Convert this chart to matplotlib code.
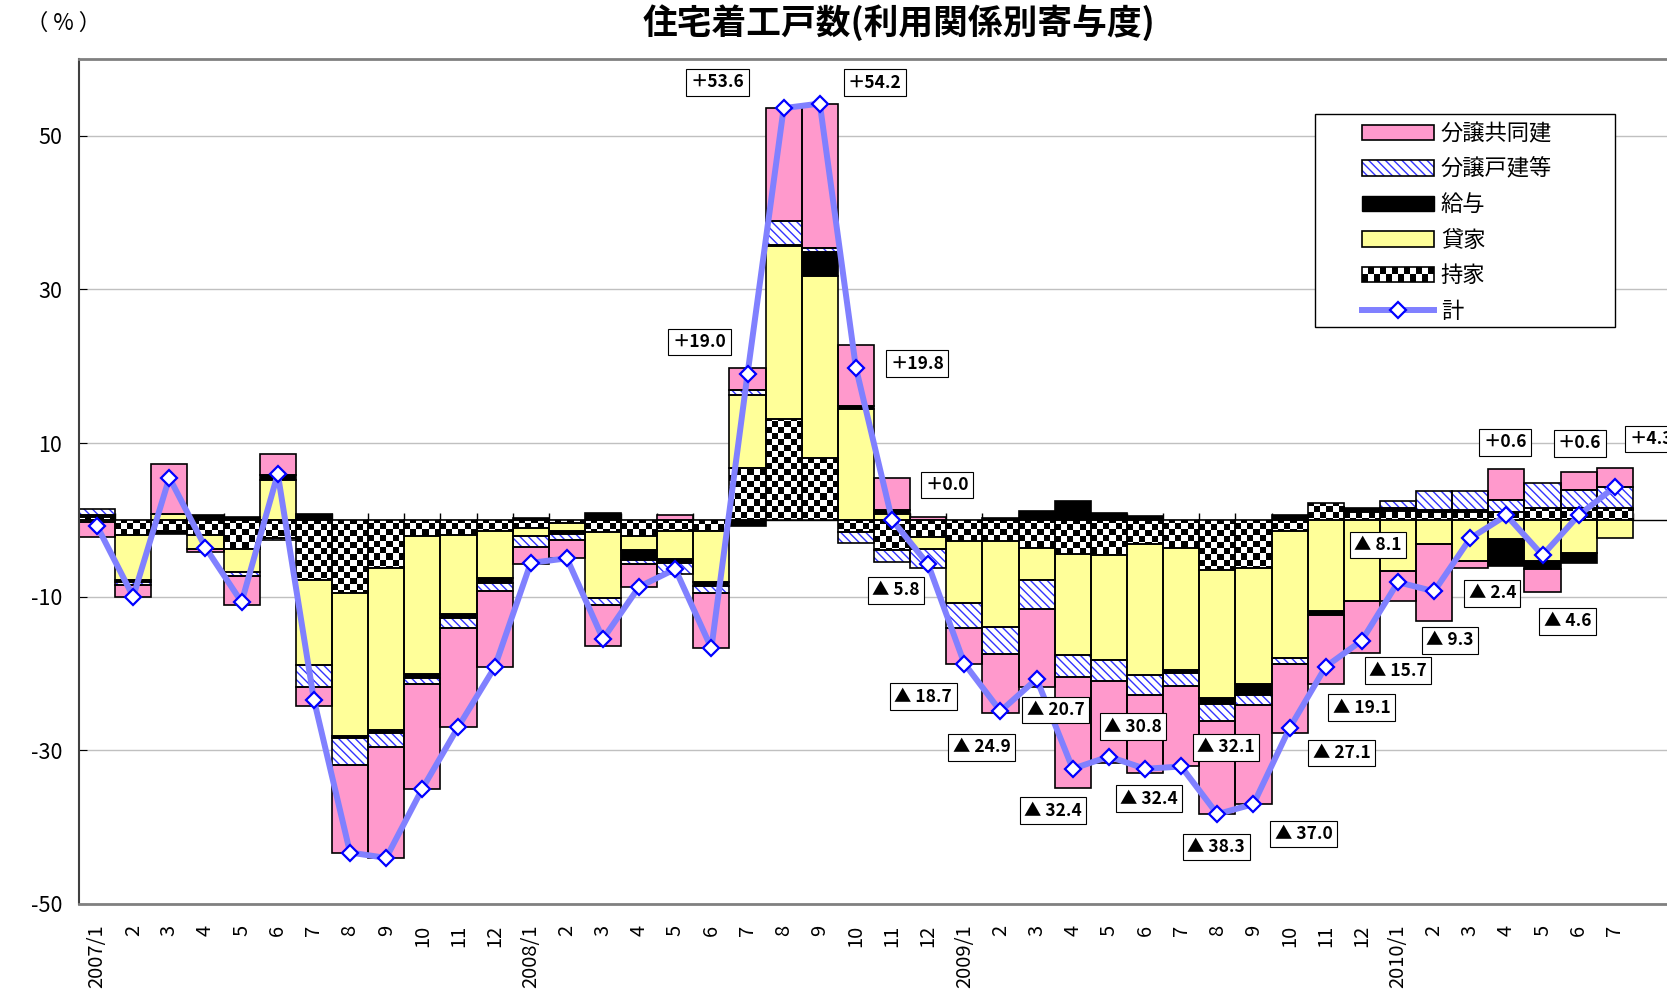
import numpy as np
import matplotlib.pyplot as plt
from matplotlib.patches import Rectangle
from matplotlib.lines import Line2D
from matplotlib.colors import ListedColormap
from matplotlib.legend_handler import HandlerBase

plt.rcParams['font.family'] = ['Noto Sans CJK JP', 'DejaVu Sans']
plt.rcParams['axes.unicode_minus'] = False
plt.rcParams['hatch.linewidth'] = 1.0

months = ['2007/1', '2', '3', '4', '5', '6', '7', '8', '9', '10', '11', '12',
          '2008/1', '2', '3', '4', '5', '6', '7', '8', '9', '10', '11', '12',
          '2009/1', '2', '3', '4', '5', '6', '7', '8', '9', '10', '11', '12',
          '2010/1', '2', '3', '4', '5', '6', '7']

# contributions by type of use (percentage points)
mochiie = [0.4, -2.0, -1.4, -1.9, -3.8, -2.3, -7.8, -9.5, -6.3, -2.1, -2.0, -1.5,
           -1.1, -0.4, -1.6, -2.1, -1.5, -1.4, 6.7, 13.1, 8.0, -1.6, -3.9, -2.2,
           -2.8, -2.8, -3.7, -4.4, -4.6, -3.1, -3.7, -6.5, -6.3, -1.5, 2.2, 1.0,
           1.2, 1.0, 1.0, 1.0, 1.6, 1.5, 1.6]
kashiya = [-0.3, -5.8, 0.8, -1.9, -3.0, 5.2, -11.1, -18.6, -21.1, -17.9, -10.2, -6.1,
           -1.0, -1.1, -8.6, -1.8, -3.6, -6.7, 9.6, 22.5, 23.8, 14.4, 0.8, -1.6,
           -8.0, -11.1, -4.1, -13.2, -13.7, -17.1, -15.8, -16.7, -15.0, -16.5, -11.8, -10.6,
           -6.6, -3.1, -5.3, -2.5, -5.4, -4.3, -2.4]
kyuyo = [0.3, -0.3, -0.4, 0.6, 0.4, 0.6, 0.8, -0.3, -0.3, -0.6, -0.6, -0.6,
         0.2, -0.3, 0.9, -1.3, -0.5, -0.5, -0.8, 0.2, 3.1, 0.4, 0.5, 0.0,
         0.0, 0.3, 1.1, 2.5, 0.9, 0.5, -0.4, -0.7, -1.5, 0.6, -0.6, 0.6,
         0.4, 0.3, 0.3, -3.5, -1.0, -1.3, 0.0]
bunjo_kodate = [0.7, -0.4, 0.0, 0.0, -0.5, -0.3, -2.8, -3.5, -1.9, -0.7, -1.3, -1.1,
                -1.4, -0.8, -0.9, -0.6, -1.4, -0.9, 0.6, 3.1, 0.5, -1.4, -1.6, -2.4,
                -3.3, -3.6, -3.8, -2.9, -2.7, -2.6, -1.7, -2.3, -1.3, -0.8, 0.0, 0.0,
                0.8, 2.5, 2.5, 1.6, 3.2, 2.4, 2.7]
bunjo_kyodo = [-1.9, -1.5, 6.5, -0.4, -3.8, 2.8, -2.5, -11.4, -14.4, -13.7, -12.8, -9.9,
               -2.3, -2.4, -5.3, -2.9, 0.6, -7.2, 2.9, 14.7, 18.8, 8.0, 4.2, 0.4,
               -4.6, -7.7, -10.2, -14.4, -10.7, -10.1, -10.5, -12.1, -12.9, -8.9, -8.9, -6.7,
               -3.9, -10.0, -0.9, 4.0, -3.0, 2.3, 2.4]
total = [-0.8, -10.0, 5.5, -3.6, -10.7, 6.0, -23.4, -43.3, -44.0, -35.0, -26.9, -19.2,
         -5.6, -5.0, -15.5, -8.7, -6.4, -16.7, 19.0, 53.6, 54.2, 19.8, 0.0, -5.8,
         -18.7, -24.9, -20.7, -32.4, -30.8, -32.4, -32.1, -38.3, -37.0, -27.1, -19.1, -15.7,
         -8.1, -9.3, -2.4, 0.6, -4.6, 0.6, 4.3]

# value labels start at 2008/7; offsets in pixels from the point (right, up)
label_start = 18
label_offsets = [(-48, 32), (-66, 26), (55, 21), (61, 4), (55, 35), (-32, -26),
                 (-41, -33), (-19, -36), (19, -31), (-20, -42), (24, 30), (4, -30),
                 (45, 19), (-1, -33), (50, -30), (52, -25), (36, -41), (36, -30),
                 (-20, 37), (16, -49), (22, -55), (-1, 73), (25, -66), (1, 72), (36, 48)]

PINK = '#FF99CC'
YELLOW = '#FFFF99'
HATCH_BLUE = '#3333FF'
LINE_BLUE = '#8080FF'
EDGE_LW = 1.2
HATCH = '\\\\\\\\'


class PatternHandler(HandlerBase):
    def __init__(self, kind):
        super().__init__()
        self.kind = kind

    def create_artists(self, legend, orig_handle, xdescent, ydescent,
                       width, height, fontsize, trans):
        x0, y0 = -xdescent, -ydescent
        arts = []
        if self.kind == 'hatch':
            arts.append(Rectangle((x0, y0), width, height, facecolor='white',
                                  edgecolor=HATCH_BLUE, linewidth=0, hatch=HATCH,
                                  transform=trans))
        else:
            arts.append(Rectangle((x0, y0), width, height, facecolor='white',
                                  edgecolor='none', transform=trans))
            nx, ny = 12, 2
            cw, ch = width / nx, height / ny
            for i in range(nx):
                for j in range(ny):
                    if (i + j) % 2 == 0:
                        arts.append(Rectangle((x0 + i * cw, y0 + j * ch), cw, ch,
                                              facecolor='black', edgecolor='none',
                                              transform=trans))
        arts.append(Rectangle((x0, y0), width, height, fill=False,
                              edgecolor='black', linewidth=EDGE_LW, transform=trans))
        return arts


fig = plt.figure(figsize=(16.67, 9.98), dpi=100)
ax = fig.add_axes([79 / 1667, 1 - 904 / 998, 1590 / 1667, 845 / 998])

x = np.arange(len(months))
pos_base = np.zeros(len(x))
neg_base = np.zeros(len(x))

series = [(mochiie, 'checker'), (kashiya, YELLOW), (kyuyo, 'black'),
          (bunjo_kodate, 'hatch'), (bunjo_kyodo, PINK)]

checker = np.indices((140, 264)).sum(axis=0) % 2
checker_cmap = ListedColormap(['white', 'black'])

for vals, style in series:
    v = np.array(vals)
    bottom = np.where(v >= 0, pos_base, neg_base)
    if style == 'hatch':
        ax.bar(x, v, 1.0, bottom, color='white', edgecolor=HATCH_BLUE,
               linewidth=0, hatch=HATCH, zorder=2)
    elif style == 'checker':
        bars = ax.bar(x, v, 1.0, bottom, color='white', linewidth=0, zorder=2)
        for patch in bars.patches:
            if patch.get_height() == 0:
                continue
            im = ax.imshow(checker, extent=(-0.5, 43.5, -50, 60), cmap=checker_cmap,
                           interpolation='nearest', aspect='auto', zorder=2.1)
            im.set_clip_path(patch)
    else:
        ax.bar(x, v, 1.0, bottom, color=style, linewidth=0, zorder=2)
    nz = v != 0
    ax.bar(x[nz], v[nz], 1.0, bottom[nz], fill=False, edgecolor='black',
           linewidth=EDGE_LW, zorder=2.3)
    pos_base = pos_base + np.where(v > 0, v, 0)
    neg_base = neg_base + np.where(v < 0, v, 0)

ax.plot(x, total, color=LINE_BLUE, linewidth=4.3, marker='D', markersize=8,
        markerfacecolor='white', markeredgecolor='#0000FF', markeredgewidth=1.6,
        zorder=4)

for k, (dx, dy) in enumerate(label_offsets):
    i = label_start + k
    v = total[i]
    txt = f'＋{v:.1f}' if v >= 0 else f'▲ {abs(v):.1f}'
    ax.annotate(txt, (x[i], v), xytext=(dx, dy), textcoords='offset pixels',
                ha='center', va='center', fontsize=12.5, fontweight='bold',
                bbox=dict(boxstyle='square,pad=0.25', fc='white', ec='black', lw=0.8),
                zorder=6)

# zero line with small category ticks
ax.axhline(0, color='black', linewidth=1.0, zorder=1.5)
ax.vlines(np.arange(len(x) + 1) - 0.5, 0, 0.9, color='black', linewidth=1.0, zorder=1.5)

ax.set_xlim(-0.5, 43.5)
ax.set_ylim(-50, 60)
ax.set_yticks([-50, -30, -10, 10, 30, 50])
ax.tick_params(axis='y', direction='in', length=6, pad=12, labelsize=15.5)
ax.yaxis.grid(True, color='#C0C0C0', linewidth=1.0)
ax.set_axisbelow(True)
ax.set_xticks(x)
ax.set_xticklabels(months, rotation=90, fontsize=14.5)
ax.tick_params(axis='x', length=0, pad=15)

for side in ['top', 'bottom']:
    ax.spines[side].set_color('#808080')
    ax.spines[side].set_linewidth(2.0)
ax.spines['left'].set_color('#404040')
ax.spines['left'].set_linewidth(1.5)
ax.spines['right'].set_visible(False)

# legend frame drawn separately so the box can be wider than its entries
ax.add_patch(Rectangle((0.7774, 0.6828), 0.1887, 0.2521, transform=ax.transAxes,
                       facecolor='white', edgecolor='black', linewidth=1.0, zorder=5))

hatch_proxy = Rectangle((0, 0), 1, 1)
checker_proxy = Rectangle((0, 0), 1, 1)
handles = [Rectangle((0, 0), 1, 1, facecolor=PINK, edgecolor='black', linewidth=EDGE_LW),
           hatch_proxy,
           Rectangle((0, 0), 1, 1, facecolor='black', edgecolor='black'),
           Rectangle((0, 0), 1, 1, facecolor=YELLOW, edgecolor='black', linewidth=EDGE_LW),
           checker_proxy,
           Line2D([], [], color=LINE_BLUE, linewidth=4.3, marker='D', markersize=8,
                  markerfacecolor='white', markeredgecolor='#0000FF', markeredgewidth=1.6)]
labels = ['分譲共同建', '分譲戸建等', '給与', '貸家', '持家', '計']
leg = ax.legend(handles, labels, loc='upper left', bbox_to_anchor=(0.807, 0.925),
                frameon=False, fontsize=16, borderpad=0, borderaxespad=0,
                handlelength=3.24, handleheight=0.68, handletextpad=0.3,
                labelspacing=0.56,
                handler_map={hatch_proxy: PatternHandler('hatch'),
                             checker_proxy: PatternHandler('checker')})
leg.set_zorder(7)

fig.text(899 / 1667, 1 - 23 / 998, '住宅着工戸数(利用関係別寄与度)', ha='center',
         va='center', fontsize=25, fontweight='bold')
fig.text(64 / 1667, 1 - 23 / 998, '（ % ）', ha='center', va='center', fontsize=16)

fig.savefig('out.png', dpi=100)
